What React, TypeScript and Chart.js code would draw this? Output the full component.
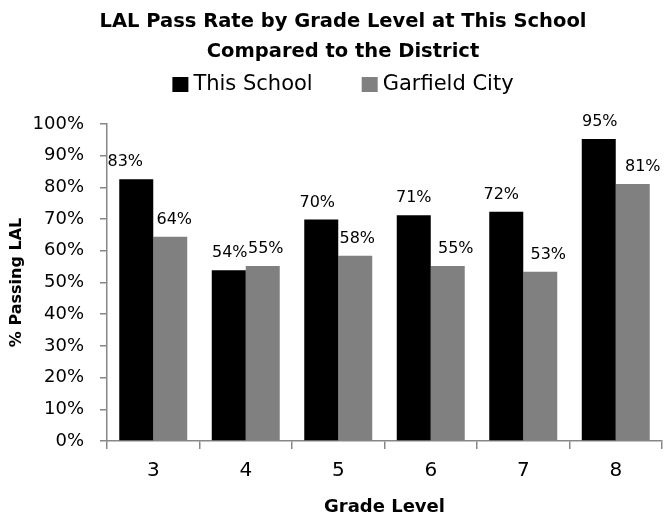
import React, { useEffect, useRef } from 'react';
import { Chart, registerables } from 'chart.js';

Chart.register(...registerables);

// ---- data ----
const categories = ['3', '4', '5', '6', '7', '8'];
const seriesNames = ['This School', 'Garfield City'];
const thisSchool = [82.6, 53.9, 69.9, 71.2, 72.3, 95.3];
const garfieldCity = [64.4, 55.2, 58.4, 55.2, 53.4, 81.1];
const titleLines = ['LAL Pass Rate by Grade Level at This School', 'Compared to the District'];
const xTitle = 'Grade Level';
const yTitle = '% Passing LAL';
const yMax = 100;
const yStep = 10;

// ---- styles ----
const FONT = "'DejaVu Sans'";
const seriesColors = ['#000000', '#808080'];
const axisColor = '#878787';
// small manual nudges of the value labels (as in the original)
const labelNudgeX = [
  [-11, 1, -4, 0, -5, 1],
  [4, 3, 2, 8, 8, 10],
];

const valueLabelPlugin = {
  id: 'valueLabels',
  afterDatasetsDraw(chart: any) {
    const ctx = chart.ctx;
    ctx.save();
    ctx.font = `16px ${FONT}`;
    ctx.fillStyle = '#000';
    ctx.textAlign = 'center';
    ctx.textBaseline = 'middle';
    chart.data.datasets.forEach((ds: any, di: number) => {
      const meta = chart.getDatasetMeta(di);
      meta.data.forEach((el: any, i: number) => {
        const v = ds.data[i];
        ctx.fillText(Math.round(v) + '%', el.x + (labelNudgeX[di]?.[i] ?? 0), el.y - 17);
      });
    });
    ctx.restore();
  },
};

const legendPlugin = {
  id: 'customLegend',
  afterDraw(chart: any) {
    const ctx = chart.ctx;
    const tb = chart.titleBlock;
    const left = tb ? tb.left : chart.chartArea.left;
    const right = tb ? tb.right : chart.chartArea.right;
    const top = (tb ? tb.top : 0) + 77;
    const cx = (left + right) / 2;
    const box = 16;
    const boxH = 15;
    const gap = 5;
    const itemGap = 49;
    ctx.save();
    ctx.font = `21px ${FONT}`;
    ctx.textBaseline = 'middle';
    ctx.textAlign = 'left';
    const widths = seriesNames.map((n) => ctx.measureText(n).width);
    const total = widths.reduce((a, w) => a + box + gap + w, 0) + itemGap * (seriesNames.length - 1);
    let x = cx - total / 2;
    seriesNames.forEach((name, i) => {
      ctx.fillStyle = seriesColors[i];
      ctx.fillRect(x, top, box, boxH);
      ctx.fillStyle = '#000';
      ctx.fillText(name, x + box + gap, top + boxH / 2);
      x += box + gap + widths[i] + itemGap;
    });
    ctx.restore();
  },
};

export default function App() {
  const canvasRef = useRef<HTMLCanvasElement | null>(null);

  useEffect(() => {
    if (!canvasRef.current) return;
    Chart.defaults.font.family = FONT;
    Chart.defaults.color = '#000';
    const chart = new Chart(canvasRef.current, {
      type: 'bar',
      data: {
        labels: categories,
        datasets: [
          {
            label: seriesNames[0],
            data: thisSchool,
            backgroundColor: seriesColors[0],
            borderWidth: 0,
            categoryPercentage: 0.735,
            barPercentage: 1.0,
          },
          {
            label: seriesNames[1],
            data: garfieldCity,
            backgroundColor: seriesColors[1],
            borderWidth: 0,
            categoryPercentage: 0.735,
            barPercentage: 1.0,
          },
        ],
      },
      options: {
        responsive: false,
        animation: false,
        layout: { padding: { left: 24, right: 3, top: 0, bottom: 0 } },
        plugins: {
          legend: { display: false },
          tooltip: { enabled: false },
          title: {
            display: true,
            text: titleLines,
            color: '#000',
            font: { family: FONT, size: 19.5, weight: 'bold', lineHeight: 30 / 19.5 },
            padding: { top: 7, bottom: 57 },
          },
        },
        scales: {
          x: {
            afterFit: (scale: any) => {
              scale.height = 78;
            },
            grid: {
              display: true,
              drawOnChartArea: false,
              drawTicks: true,
              tickLength: 8,
              color: axisColor,
              lineWidth: 1.5,
              offset: true,
            },
            border: { display: true, color: axisColor, width: 1.5 },
            ticks: { font: { family: FONT, size: 20 }, color: '#000', padding: 10 },
            title: {
              display: true,
              text: xTitle,
              color: '#000',
              font: { family: FONT, size: 18, weight: 'bold' },
              padding: { top: 0, bottom: 1 },
            },
          },
          y: {
            min: 0,
            max: yMax,
            afterFit: (scale: any) => {
              scale.width = 83;
            },
            grid: {
              display: true,
              drawOnChartArea: false,
              drawTicks: true,
              tickLength: 7,
              color: axisColor,
              lineWidth: 1.5,
            },
            border: { display: true, color: axisColor, width: 1.5 },
            ticks: {
              stepSize: yStep,
              font: { family: FONT, size: 18 },
              color: '#000',
              padding: 16,
              callback: (v: any) => v + '%',
            },
            title: {
              display: true,
              text: yTitle,
              color: '#000',
              font: { family: FONT, size: 16, weight: 'bold' },
              padding: { top: -17, bottom: 0 },
            },
          },
        },
      },
      plugins: [valueLabelPlugin, legendPlugin],
    } as any);
    return () => chart.destroy();
  }, []);

  return (
    <div style={{ position: 'fixed', left: 0, top: 0, width: 665, height: 519, background: '#fff' }}>
      <canvas ref={canvasRef} width={665} height={519} />
    </div>
  );
}
